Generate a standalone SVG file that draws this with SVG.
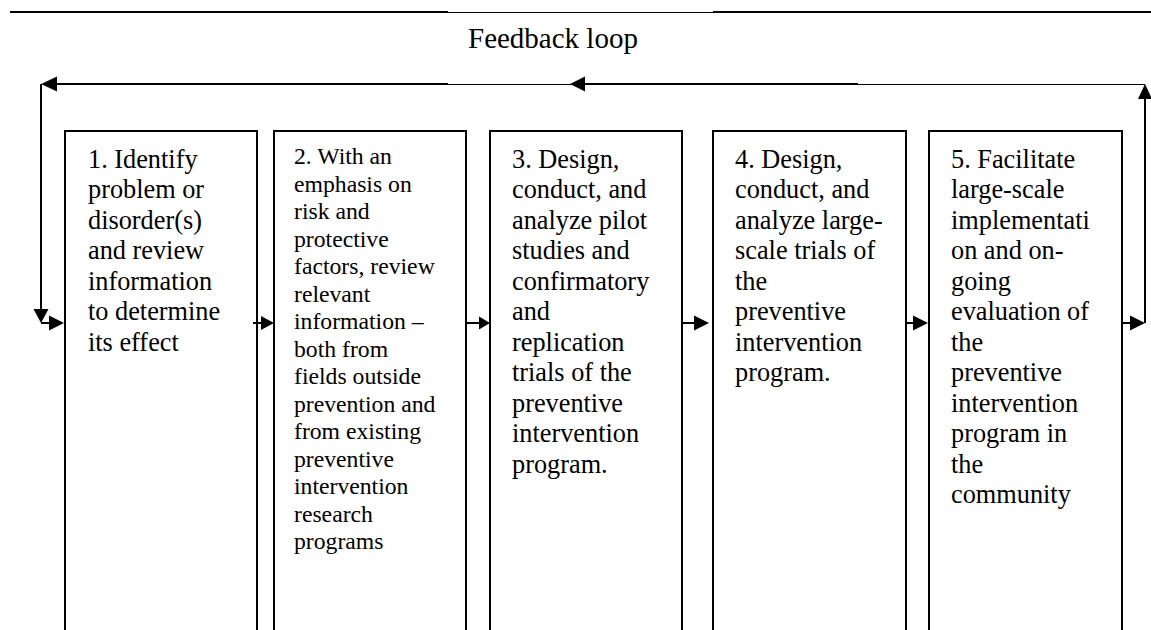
<svg xmlns="http://www.w3.org/2000/svg" width="1151" height="630" viewBox="0 0 1151 630">
  <style>
    .box { fill: #ffffff; stroke: #000000; stroke-width: 2; }
    .ln { fill: none; stroke: #000000; stroke-width: 2; }
    .thin { fill: none; stroke: #000000; stroke-width: 1; }
    .head { fill: #000000; stroke: none; }
    .t { font-family: "Liberation Serif", "Times New Roman", serif; font-size: 26.3px; fill: #000000; }
    .ts { font-family: "Liberation Serif", "Times New Roman", serif; font-size: 23.7px; fill: #000000; }
    .title { font-family: "Liberation Serif", "Times New Roman", serif; font-size: 29px; fill: #000000; }
  </style>
  <rect width="1151" height="630" fill="#ffffff"/>

  <!-- rule across the top, thinner where the title sits -->
  <g id="top-rule">
    <line class="ln" x1="10" y1="12" x2="448" y2="12"/>
    <line class="thin" x1="448" y1="12.5" x2="713" y2="12.5"/>
    <line class="ln" x1="713" y1="12" x2="1151" y2="12"/>
  </g>

  <g id="title">
    <text class="title" x="468" y="48">Feedback loop</text>
  </g>

  <!-- step boxes (open at the bottom edge) -->
  <g id="step1">
    <rect class="box" x="65" y="131" width="192" height="530"/>
    <text class="t" x="88" y="167.5">
      <tspan x="88" dy="0">1. Identify</tspan>
      <tspan x="88" dy="30.5">problem or</tspan>
      <tspan x="88" dy="30.5">disorder(s)</tspan>
      <tspan x="88" dy="30.5">and review</tspan>
      <tspan x="88" dy="30.5">information</tspan>
      <tspan x="88" dy="30.5">to determine</tspan>
      <tspan x="88" dy="30.5">its effect</tspan>
    </text>
  </g>

  <g id="step2">
    <rect class="box" x="274" y="131" width="192" height="530"/>
    <text class="ts" x="294" y="164">
      <tspan x="294" dy="0">2. With an</tspan>
      <tspan x="294" dy="27.5">emphasis on</tspan>
      <tspan x="294" dy="27.5">risk and</tspan>
      <tspan x="294" dy="27.5">protective</tspan>
      <tspan x="294" dy="27.5">factors, review</tspan>
      <tspan x="294" dy="27.5">relevant</tspan>
      <tspan x="294" dy="27.5">information –</tspan>
      <tspan x="294" dy="27.5">both from</tspan>
      <tspan x="294" dy="27.5">fields outside</tspan>
      <tspan x="294" dy="27.5">prevention and</tspan>
      <tspan x="294" dy="27.5">from existing</tspan>
      <tspan x="294" dy="27.5">preventive</tspan>
      <tspan x="294" dy="27.5">intervention</tspan>
      <tspan x="294" dy="27.5">research</tspan>
      <tspan x="294" dy="27.5">programs</tspan>
    </text>
  </g>

  <g id="step3">
    <rect class="box" x="490" y="131" width="192" height="530"/>
    <text class="t" x="512" y="167.5">
      <tspan x="512" dy="0">3. Design,</tspan>
      <tspan x="512" dy="30.5">conduct, and</tspan>
      <tspan x="512" dy="30.5">analyze pilot</tspan>
      <tspan x="512" dy="30.5">studies and</tspan>
      <tspan x="512" dy="30.5">confirmatory</tspan>
      <tspan x="512" dy="30.5">and</tspan>
      <tspan x="512" dy="30.5">replication</tspan>
      <tspan x="512" dy="30.5">trials of the</tspan>
      <tspan x="512" dy="30.5">preventive</tspan>
      <tspan x="512" dy="30.5">intervention</tspan>
      <tspan x="512" dy="30.5">program.</tspan>
    </text>
  </g>

  <g id="step4">
    <rect class="box" x="713" y="131" width="193" height="530"/>
    <text class="t" x="735" y="167.5">
      <tspan x="735" dy="0">4. Design,</tspan>
      <tspan x="735" dy="30.5">conduct, and</tspan>
      <tspan x="735" dy="30.5">analyze large-</tspan>
      <tspan x="735" dy="30.5">scale trials of</tspan>
      <tspan x="735" dy="30.5">the</tspan>
      <tspan x="735" dy="30.5">preventive</tspan>
      <tspan x="735" dy="30.5">intervention</tspan>
      <tspan x="735" dy="30.5">program.</tspan>
    </text>
  </g>

  <g id="step5">
    <rect class="box" x="929" y="131" width="193" height="530"/>
    <text class="t" x="951" y="167.5">
      <tspan x="951" dy="0">5. Facilitate</tspan>
      <tspan x="951" dy="30.5">large-scale</tspan>
      <tspan x="951" dy="30.5">implementati</tspan>
      <tspan x="951" dy="30.5">on and on-</tspan>
      <tspan x="951" dy="30.5">going</tspan>
      <tspan x="951" dy="30.5">evaluation of</tspan>
      <tspan x="951" dy="30.5">the</tspan>
      <tspan x="951" dy="30.5">preventive</tspan>
      <tspan x="951" dy="30.5">intervention</tspan>
      <tspan x="951" dy="30.5">program in</tspan>
      <tspan x="951" dy="30.5">the</tspan>
      <tspan x="951" dy="30.5">community</tspan>
    </text>
  </g>

  <!-- connectors: step-to-step arrows and the feedback loop -->
  <g id="connectors">
    <!-- feedback loop: up the right side, back along the top, down the left side -->
    <line class="ln" x1="1145" y1="323" x2="1145" y2="96"/>
    <line class="thin" x1="858" y1="84.5" x2="1145" y2="84.5"/>
    <line class="ln" x1="580" y1="84" x2="858" y2="84"/>
    <line class="thin" x1="448" y1="84.5" x2="580" y2="84.5"/>
    <line class="ln" x1="52" y1="84" x2="448" y2="84"/>
    <line class="ln" x1="41" y1="84" x2="41" y2="312"/>
    <polygon class="head" points="1145,84 1138,99 1152,99"/>
    <polygon class="head" points="570,84 585,76.5 585,91.5"/>
    <polygon class="head" points="41,84 57,76.5 57,91.5"/>
    <polygon class="head" points="41,323 33.5,309 48.5,309"/>

    <!-- into step 1 -->
    <line class="ln" x1="41" y1="323" x2="52" y2="323"/>
    <polygon class="head" points="64,323 49,315.5 49,330.5"/>

    <!-- step 1 to step 2 -->
    <line class="ln" x1="253" y1="323" x2="264" y2="323"/>
    <polygon class="head" points="274,323 261,316 261,330"/>

    <!-- step 2 to step 3 -->
    <line class="ln" x1="466" y1="323" x2="480" y2="323"/>
    <polygon class="head" points="490,323 479,316.5 479,329.5"/>

    <!-- step 3 to step 4 -->
    <line class="ln" x1="682" y1="323" x2="696" y2="323"/>
    <polygon class="head" points="709,323 694,315.5 694,330.5"/>

    <!-- step 4 to step 5 -->
    <line class="ln" x1="906" y1="323" x2="916" y2="323"/>
    <polygon class="head" points="928,323 913,315.5 913,330.5"/>

    <!-- step 5 out to the loop -->
    <line class="ln" x1="1122" y1="323" x2="1132" y2="323"/>
    <polygon class="head" points="1145,323 1130,315.5 1130,330.5"/>
  </g>
</svg>
